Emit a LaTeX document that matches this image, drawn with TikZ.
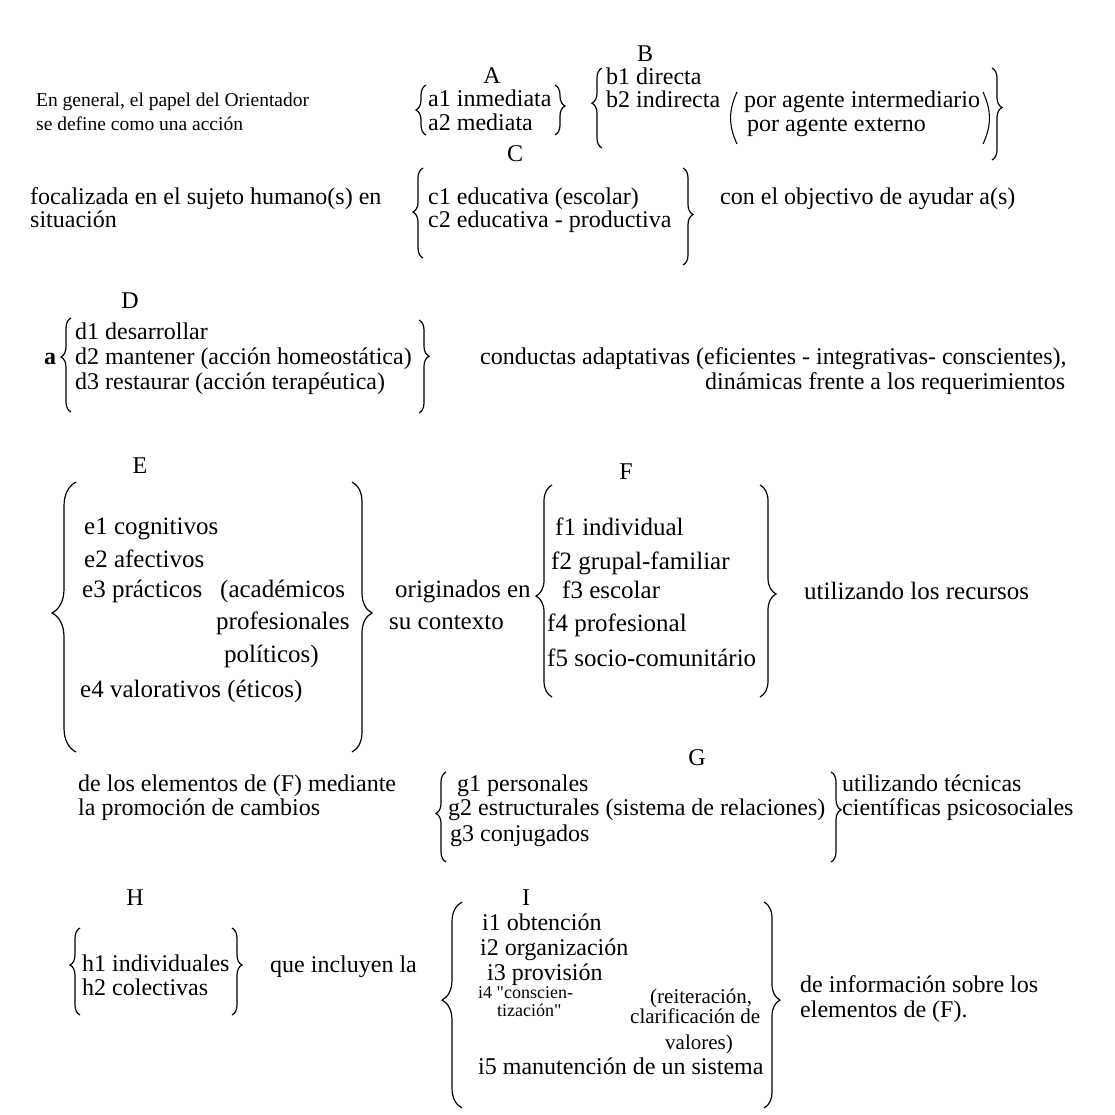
\documentclass[tikz,border=0pt]{standalone}
\usepackage{fontspec}
\setmainfont{Liberation Serif}
\newfontfamily\rectas{Liberation Serif}
\usetikzlibrary{decorations.pathreplacing, positioning}

\begin{document}
\begin{tikzpicture}[
		x=1pt, y=-1pt,
		% texto de cada linea (base a la izquierda)
		txt/.style = {anchor=base west, inner sep=0pt, font=\fontsize{24}{28}\selectfont},
		grande/.style = {txt, font=\fontsize{25}{29}\selectfont},
		chico/.style = {txt, font=\fontsize{21}{24}\selectfont},
		mini/.style = {txt, font=\fontsize{18}{20}\selectfont},
		% letras de cada grupo
		etiq/.style = {anchor=base, inner sep=0pt, font=\fontsize{24}{28}\selectfont},
		% llave: amplitud y posicion del pico
		llave/.style 2 args = {decorate, decoration={brace, amplitude=#1, aspect=#2}, line width=1.2pt},
		paren/.style = {line width=1.1pt}
		]
		\useasboundingbox (0,0) rectangle (1115,1114);
		
		% --- FILA 1: grupos A y B ---
		\node [txt, font=\fontsize{19.5}{24}\selectfont] (en1) at (36,106) {En general, el papel del Orientador};
		\node [txt, font=\fontsize{19.5}{24}\selectfont] (en2) at (36,130) {se define como una acción};
		
		\node [etiq] (lblA) at (492,83) {A};
		\node [txt] (a1) at (428,106) {a1 inmediata};
		\node [txt] (a2) at (428,130) {a2 mediata};
		\draw [llave={10pt}{0.5}] (426,135) -- (426,85);
		\draw [llave={10pt}{0.42}] (555,85) -- (555,135);
		
		\node [etiq] (lblB) at (645,61) {B};
		\node [txt] (b1) at (606,84) {b1 directa};
		\node [txt] (b2) at (606,107) {b2 indirecta};
		\node [txt] (pag1) at (744,107) {por agente intermediario};
		\node [txt] (pag2) at (747,131) {por agente externo};
		\draw [paren] (737,92) to[bend right=25] (737,144);
		\draw [paren] (983,92) to[bend left=25] (983,144);
		\draw [llave={10pt}{0.56}] (602,148) -- (602,68);
		\draw [llave={10pt}{0.43}] (992,68) -- (992,160);
		
		% --- FILA 2: grupo C ---
		\node [txt] (foc1) at (30,204) {focalizada en el sujeto humano(s) en};
		\node [txt] (foc2) at (30,227) {situación};
		
		\node [etiq] (lblC) at (515,161) {C};
		\node [txt] (c1) at (428,204) {c1 educativa (escolar)};
		\node [txt] (c2) at (428,227) {c2 educativa - productiva};
		\draw [llave={10pt}{0.51}] (423,258) -- (423,168);
		\draw [llave={10pt}{0.48}] (683,168) -- (683,265);
		
		\node [txt] (obj) at (720,204) {con el objectivo de ayudar a(s)};
		
		% --- FILA 3: grupo D ---
		\node [etiq] (lblD) at (130,308) {D};
		\node [txt, font=\fontsize{24}{28}\selectfont\bfseries] (aa) at (44,364) {a};
		\node [txt] (d1) at (75,339) {d1 desarrollar};
		\node [txt] (d2) at (75,364) {d2 mantener (acción homeostática)};
		\node [txt] (d3) at (75,389) {d3 restaurar (acción terapéutica)};
		\draw [llave={10pt}{0.585}] (71,412) -- (71,318);
		\draw [llave={10pt}{0.39}] (419,320) -- (419,413);
		
		\node [txt] (cond1) at (480,364) {conductas adaptativas (eficientes - integrativas- conscientes),};
		\node [txt] (cond2) at (705,389) {dinámicas frente a los requerimientos};
		
		% --- FILA 4: grupos E y F ---
		\node [etiq] (lblE) at (140,473) {E};
		\node [grande] (e1) at (84,534) {e1 cognitivos};
		\node [grande] (e2) at (84,567) {e2 afectivos};
		\node [grande] (e3) at (82,597) {e3 prácticos};
		\node [grande] (e3a) at (220,597) {(académicos};
		\node [grande] (e3b) at (216,629) {profesionales};
		\node [grande] (e3c) at (224,662) {políticos)};
		\node [grande] (e4) at (80,697) {e4 valorativos (éticos)};
		\draw [llave={24pt}{0.515}] (76,752) -- (76,482);
		\draw [llave={20pt}{0.485}] (352,482) -- (352,752);
		
		\node [grande] (orig1) at (395,597) {originados en};
		\node [grande] (orig2) at (389,629) {su contexto};
		
		\node [etiq] (lblF) at (626,479) {F};
		\node [grande] (f1) at (555,535) {f1 individual};
		\node [grande] (f2) at (551,569) {f2 grupal-familiar};
		\node [grande] (f3) at (562,598) {f3 escolar};
		\node [grande] (f4) at (547,631) {f4 profesional};
		\node [grande] (f5) at (547,666) {f5 socio-comunitário};
		\draw [llave={16pt}{0.476}] (552,697) -- (552,485);
		\draw [llave={16pt}{0.514}] (760,485) -- (760,697);
		
		\node [grande] (rec) at (804,599) {utilizando los recursos};
		
		% --- FILA 5: grupo G ---
		\node [txt] (prom1) at (78,791) {de los elementos de (F) mediante};
		\node [txt] (prom2) at (78,815) {la promoción de cambios};
		
		\node [etiq] (lblG) at (697,765) {G};
		\node [txt] (g1) at (457,791) {g1 personales};
		\node [txt] (g2) at (448,815) {g2 estructurales (sistema de relaciones)};
		\node [txt] (g3) at (450,841) {g3 conjugados};
		\draw [llave={10pt}{0.54}] (446,862) -- (446,772);
		\draw [llave={10pt}{0.42}] (831,772) -- (831,862);
		
		\node [txt] (tec1) at (842,791) {utilizando técnicas};
		\node [txt] (tec2) at (842,815) {científicas psicosociales};
		
		% --- FILA 6: grupos H e I ---
		\node [etiq] (lblH) at (135,905) {H};
		\node [txt] (h1) at (82,971) {h1 individuales};
		\node [txt] (h2) at (82,995) {h2 colectivas};
		\draw [llave={10pt}{0.575}] (80,1015) -- (80,928);
		\draw [llave={10pt}{0.425}] (232,928) -- (232,1015);
		
		\node [txt] (incl) at (270,972) {que incluyen la};
		
		\node [etiq] (lblI) at (526,905) {I};
		\node [txt] (i1) at (482,930) {i1 obtención};
		\node [txt] (i2) at (480,955) {i2 organización};
		\node [txt] (i3) at (487,980) {i3 provisión};
		\node [mini] (i4) at (478,998) {i4 {\rectas "}conscien-};
		\node [mini] (i4b) at (497,1016) {tización{\rectas "}};
		\node [chico] (i4c) at (650,1003) {(reiteración,};
		\node [chico] (i4d) at (630,1023) {clarificación de};
		\node [chico] (i4e) at (665,1049) {valores)};
		\node [txt] (i5) at (478,1074) {i5 manutención de un sistema};
		\draw [llave={20pt}{0.524}] (462,1108) -- (462,902);
		\draw [llave={16pt}{0.476}] (764,902) -- (764,1108);
		
		\node [txt] (inf1) at (800,992) {de información sobre los};
		\node [txt] (inf2) at (800,1017) {elementos de (F).};
		
	\end{tikzpicture}
\end{document}
